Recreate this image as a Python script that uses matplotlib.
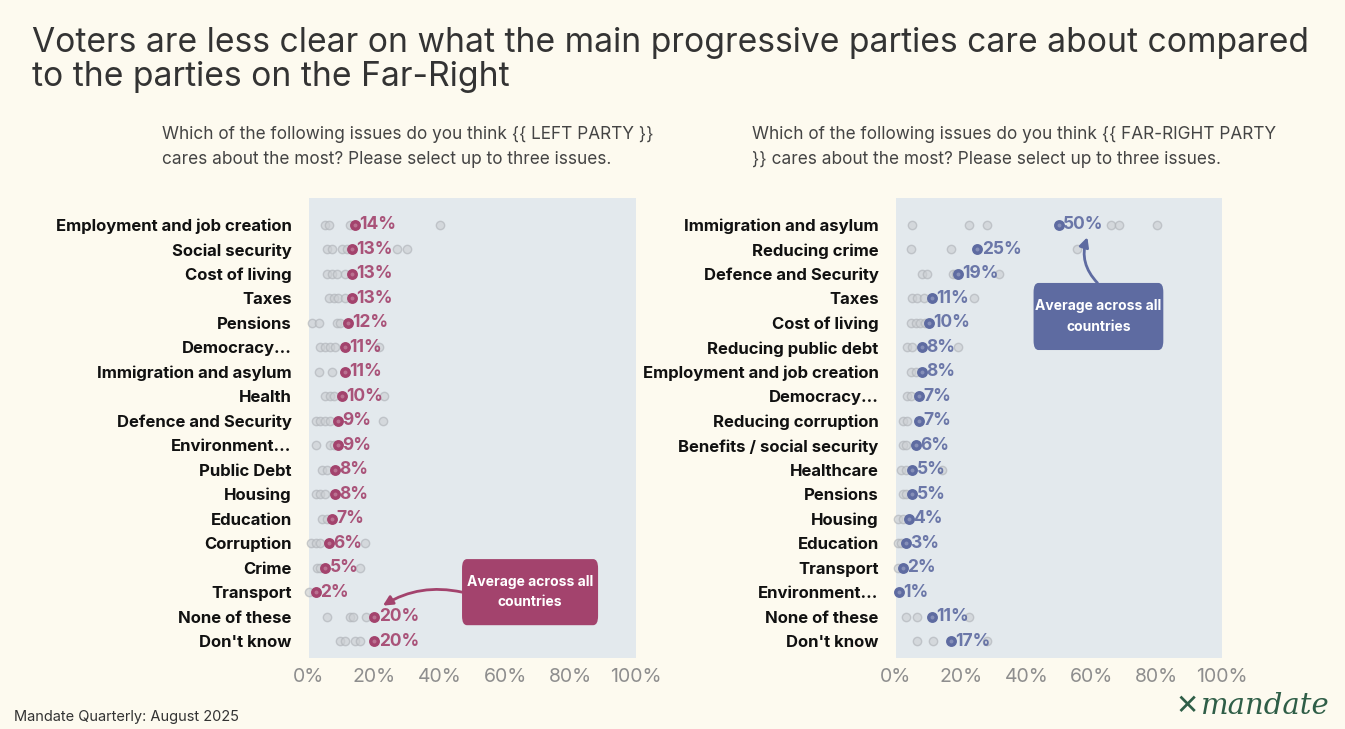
import matplotlib.pyplot as plt
from matplotlib.patches import FancyBboxPatch

plt.rcParams['font.family'] = ['Inter', 'DejaVu Sans']

# ---- data ----
left_cats = ['Employment and job creation', 'Social security', 'Cost of living', 'Taxes',
             'Pensions', 'Democracy...', 'Immigration and asylum', 'Health',
             'Defence and Security', 'Environment...', 'Public Debt', 'Housing',
             'Education', 'Corruption', 'Crime', 'Transport', 'None of these', "Don't know"]
left_avg = [14, 13, 13, 13, 12, 11, 11, 10, 9, 9, 8, 8, 7, 6, 5, 2, 20, 20]
left_countries = [
    [5, 6, 12.5, 40], [5.5, 7, 10, 11.5, 27, 30], [5.5, 7, 8.5, 11], [6, 7.5, 9, 11],
    [1, 3, 8.5, 9.5], [3.5, 5, 6.5, 8, 21.5], [3, 7], [5, 6.5, 7.5, 23],
    [2, 3.5, 5, 6.5, 22.5], [2, 6.5, 7.5], [4, 5.5], [2, 3.5, 5],
    [4, 5.5], [0.5, 2, 3.5, 17], [2.5, 3.5, 15.5], [0],
    [5.5, 12.5, 13.5, 17.5], [9.5, 11, 14, 15.5]]

right_cats = ['Immigration and asylum', 'Reducing crime', 'Defence and Security', 'Taxes',
              'Cost of living', 'Reducing public debt', 'Employment and job creation',
              'Democracy...', 'Reducing corruption', 'Benefits / social security',
              'Healthcare', 'Pensions', 'Housing', 'Education', 'Transport',
              'Environment...', 'None of these', "Don't know"]
right_avg = [50, 25, 19, 11, 10, 8, 8, 7, 7, 6, 5, 5, 4, 3, 2, 1, 11, 17]
right_countries = [
    [5, 22.5, 28, 66, 68.5, 80], [4.5, 17, 55.5], [8, 9.5, 17.5, 18.5, 31.5],
    [5, 6.5, 8.5, 24], [4.5, 6, 7.5, 9], [3.5, 5, 19], [4.5, 6], [3.5, 4.5],
    [2, 3.5], [2, 3], [1.5, 3, 14], [2, 3], [0.5, 2], [0.5, 1.5], [0.5], [],
    [3, 6.5, 22.5], [6.5, 11.5, 28]]

xticks = [0, 20, 40, 60, 80, 100]

BG = '#FDFAEF'
PANEL = '#E3E9ED'
LEFT_C = '#A3436D'
RIGHT_C = '#5E6BA1'

W, H = 1345, 729
fig = plt.figure(figsize=(W / 100, H / 100), dpi=100, facecolor=BG)


def px_axes(x0, x1, y0, y1):
    return fig.add_axes([x0 / W, 1 - y1 / H, (x1 - x0) / W, (y1 - y0) / H])


def draw_panel(ax, cats, avg, countries, color):
    ax.set_facecolor(PANEL)
    for s in ax.spines.values():
        s.set_visible(False)
    # individual countries
    for i, vals in enumerate(countries):
        ax.scatter(vals, [i] * len(vals), s=36, facecolor='#CDD0D4', edgecolor='#B0B4B9',
                   linewidth=1, alpha=0.65, zorder=2, clip_on=False)
    # average across countries
    for i, v in enumerate(avg):
        ax.scatter([v], [i], s=44, facecolor=color, edgecolor=color, linewidth=1.2,
                   zorder=4, clip_on=False)
        ax.scatter([v], [i], s=8, facecolor='white', alpha=0.25, linewidth=0, zorder=5,
                   clip_on=False)
        ax.text(v + 1.3, i, f'{v}%', color=color, fontsize=12.5, fontweight='bold',
                ha='left', va='center', zorder=6, alpha=0.9)
    ax.set_xlim(0, 100)
    ax.set_ylim(17.69, -1.10)
    ax.set_yticks(range(len(cats)))
    ax.set_yticklabels(cats, fontsize=12, fontweight='bold', color='#111111')
    ax.set_xticks(xticks)
    ax.set_xticklabels([f'{t}%' for t in xticks], fontsize=14, color='#8E8E8E')
    ax.tick_params(length=0)
    ax.tick_params(axis='x', pad=7)
    ax.tick_params(axis='y', pad=12.5)


axL = px_axes(309, 636, 198, 658)
draw_panel(axL, left_cats, left_avg, left_countries, LEFT_C)
axR = px_axes(896, 1222, 198, 658)
draw_panel(axR, right_cats, right_avg, right_countries, RIGHT_C)


def callout(ax, x0, x1, y0, y1, color, start, end, rad):
    box = FancyBboxPatch((x0, y0), x1 - x0, y1 - y0,
                         boxstyle='round,pad=0,rounding_size=1.5',
                         facecolor=color, edgecolor='none', zorder=7, clip_on=False,
                         mutation_aspect=0.25)
    ax.add_patch(box)
    ax.text((x0 + x1) / 2, (y0 + y1) / 2, 'Average across all\ncountries', color='white',
            fontsize=10, fontweight='bold', ha='center', va='center', zorder=8,
            linespacing=1.6)
    ax.annotate('', xy=end, xytext=start, zorder=7,
                arrowprops=dict(arrowstyle='-|>', color=color, lw=2, mutation_scale=14,
                                shrinkA=0, shrinkB=0,
                                connectionstyle=f'arc3,rad={rad}'))


callout(axL, 46.8, 88.4, 13.65, 16.35, LEFT_C, (46.8, 15.0), (22.6, 15.55), 0.2)
callout(axR, 42.2, 82.0, 2.37, 5.11, RIGHT_C, (61.8, 2.37), (58.7, 0.5), -0.3)

# ---- texts ----
fig.text(32 / W, 1 - 60 / H,
         'Voters are less clear on what the main progressive parties care about compared\n'
         'to the parties on the Far-Right', fontsize=24.2, color='#333333', va='center',
         linespacing=1.1)
fig.text(162 / W, 1 - 147 / H,
         'Which of the following issues do you think {{ LEFT PARTY }}\n'
         'cares about the most? Please select up to three issues.',
         fontsize=12.4, color='#444444', va='center', linespacing=1.65)
fig.text(752 / W, 1 - 147 / H,
         'Which of the following issues do you think {{ FAR-RIGHT PARTY\n'
         '}} cares about the most? Please select up to three issues.',
         fontsize=12.4, color='#444444', va='center', linespacing=1.65)
fig.text(14 / W, 1 - 717 / H, 'Mandate Quarterly: August 2025', fontsize=10.5,
         color='#333333', va='center')

# logo
fig.text(1187 / W, 1 - 706 / H, '✕', fontsize=20, color='#2F5E47', ha='center',
         va='center', fontweight='bold', family=['DejaVu Sans'])
fig.text(1201 / W, 1 - 706 / H, 'mandate', fontsize=21, color='#2F5E47', ha='left',
         va='center', style='italic', family=['DejaVu Serif'])

fig.savefig('out.png', dpi=100, facecolor=BG)
